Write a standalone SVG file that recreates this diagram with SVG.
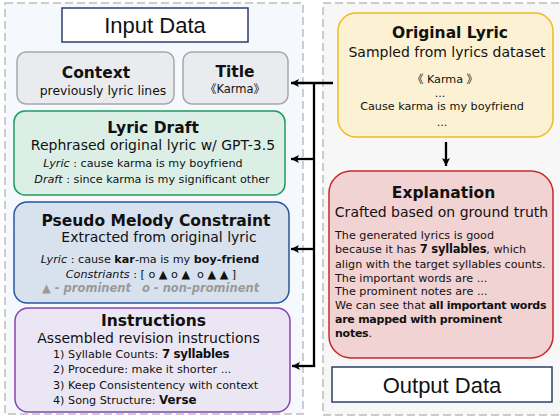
<svg xmlns="http://www.w3.org/2000/svg" width="560" height="416" viewBox="0 0 560 416">
<style>
text{font-family:"DejaVu Sans","Noto Sans CJK SC",sans-serif;fill:#111;}
.t{font-weight:bold;font-size:15.5px;text-anchor:middle;}
.s{font-size:14px;text-anchor:middle;}
.m{font-size:11.2px;text-anchor:middle;}
.l{font-size:11.2px;}
.e{font-size:11.2px;}
.eb{font-weight:bold;font-size:11px;letter-spacing:-0.25px;}
.b{font-weight:bold;}
.i{font-style:italic;}
.lg{font-size:11.5px;font-weight:bold;font-style:italic;fill:#9a9a9a;}
.hd{font-family:"Liberation Sans",Arial,sans-serif;font-size:22px;text-anchor:middle;}
.panel{stroke:#bdbdbd;stroke-width:1.5;stroke-dasharray:8 4;}
.lbl{fill:#fff;stroke:#2e3e6b;stroke-width:1.5;}
.conn{fill:none;stroke:#000;stroke-width:2.3;}
</style>
<defs>
<marker id="ah" viewBox="0 0 10 10" refX="10" refY="5" markerWidth="9" markerHeight="8" markerUnits="userSpaceOnUse" orient="auto">
<path d="M0,0 L10,5 L0,10 L2.5,5 z" fill="#000"/>
</marker>
</defs>
<rect width="560" height="416" fill="#fff"/>
<rect class="panel" x="5" y="3" width="298" height="411" fill="#f5f9fd"/>
<rect class="panel" x="323" y="3" width="260" height="412" fill="#f7f7f7"/>

<g id="input-data">
<rect class="lbl" x="62" y="8" width="186" height="34"/>
<text class="hd" x="155" y="33">Input Data</text>
</g>

<g id="context">
<rect x="17" y="52" width="157" height="52" rx="9" fill="#eaebef" stroke="#a8a8a8" stroke-width="1.5"/>
<text class="t" x="96" y="78">Context</text>
<text x="103" y="95" style="font-size:12.4px;text-anchor:middle">previously lyric lines</text>
</g>

<g id="title">
<rect x="183" y="52" width="105" height="52" rx="9" fill="#eaebef" stroke="#a8a8a8" stroke-width="1.5"/>
<text class="t" x="235" y="77">Title</text>
<text x="235" y="93" style="font-size:11.5px;text-anchor:middle">《Karma》</text>
</g>

<g id="lyric-draft">
<rect x="14" y="111" width="271" height="84" rx="11" fill="#dcefe7" stroke="#1f9a5f" stroke-width="1.5"/>
<text class="t" x="153" y="133">Lyric Draft</text>
<text class="s" x="153" y="150">Rephrased original lyric w/ GPT-3.5</text>
<text class="m" x="143" y="167"><tspan class="i">Lyric</tspan> : cause karma is my boyfriend</text>
<text class="m" x="152" y="183"><tspan class="i">Draft</tspan> : since karma is my significant other</text>
</g>

<g id="pseudo-melody">
<rect x="14" y="202" width="275" height="101" rx="13" fill="#d8e2ee" stroke="#2756a1" stroke-width="1.5"/>
<text class="t" x="156" y="226">Pseudo Melody Constraint</text>
<text class="s" x="159" y="242">Extracted from original lyric</text>
<text class="m" x="150" y="263"><tspan class="i">Lyric</tspan> : cause <tspan class="b">kar</tspan>-ma is my <tspan class="b">boy-friend</tspan></text>
<text class="m" x="151" y="278" xml:space="preserve"><tspan class="i">Constriants</tspan> : [ o ▲ o ▲  o ▲ ▲ ]</text>
<text class="lg" x="42" y="292">▲ - prominent</text>
<text class="lg" x="142" y="292">o - non-prominent</text>
</g>

<g id="instructions">
<rect x="15" y="308" width="275" height="104" rx="13" fill="#ebe6f3" stroke="#8845b3" stroke-width="1.5"/>
<text class="t" x="153.5" y="326">Instructions</text>
<text class="s" x="148.5" y="343">Assembled revision instructions</text>
<text class="l" x="53" y="358">1) Syllable Counts: <tspan class="b" style="font-size:11.8px;letter-spacing:-0.3px">7 syllables</tspan></text>
<text class="l" x="53" y="373">2) Procedure: make it shorter ...</text>
<text class="l" x="53" y="389">3) Keep Consistentency with context</text>
<text class="l" x="53" y="404">4) Song Structure: <tspan class="b" style="font-size:11.8px">Verse</tspan></text>
</g>

<g id="original-lyric">
<rect x="338" y="13" width="215" height="124" rx="18" fill="#fdf1d3" stroke="#f5b921" stroke-width="1.5"/>
<text class="t" x="450" y="38">Original Lyric</text>
<text class="s" x="447" y="57">Sampled from lyrics dataset</text>
<text class="m" x="445" y="83">《 Karma 》</text>
<text class="m" x="440" y="97">...</text>
<text class="m" x="442" y="110">Cause karma is my boyfriend</text>
<text class="m" x="442" y="126">...</text>
</g>

<g id="explanation">
<rect x="329" y="171" width="224" height="187" rx="22" fill="#f2d3d3" stroke="#c8282c" stroke-width="1.5"/>
<text class="t" x="443.5" y="198">Explanation</text>
<text class="s" x="441.5" y="217">Crafted based on ground truth</text>
<text class="e" x="335" y="239">The generated lyrics is good</text>
<text class="e" x="335" y="253">because it has <tspan class="b" style="font-size:11.5px;letter-spacing:-0.2px">7 syllables</tspan>, which</text>
<text class="e" x="335" y="268">align with the target syllables counts.</text>
<text class="e" x="335" y="282">The important words are ...</text>
<text class="e" x="335" y="295">The prominent notes are ...</text>
<text class="e" x="335" y="309">We can see that <tspan class="eb">all important words</tspan></text>
<text class="eb" x="335" y="323">are mapped with prominent</text>
<text class="e" x="335" y="337"><tspan class="eb">notes</tspan>.</text>
</g>

<g id="output-data">
<rect class="lbl" x="332" y="367" width="220" height="35"/>
<text class="hd" x="442" y="393">Output Data</text>
</g>

<g id="connectors">
<path class="conn" d="M333,83 H291" marker-end="url(#ah)"/>
<path class="conn" d="M314,83 V367"/>
<path class="conn" d="M314,159 H291" marker-end="url(#ah)"/>
<path class="conn" d="M314,249 H291" marker-end="url(#ah)"/>
<path class="conn" d="M315.15,366 H292" marker-end="url(#ah)"/>
<path class="conn" d="M446,142 V166" marker-end="url(#ah)"/>
</g>
</svg>
